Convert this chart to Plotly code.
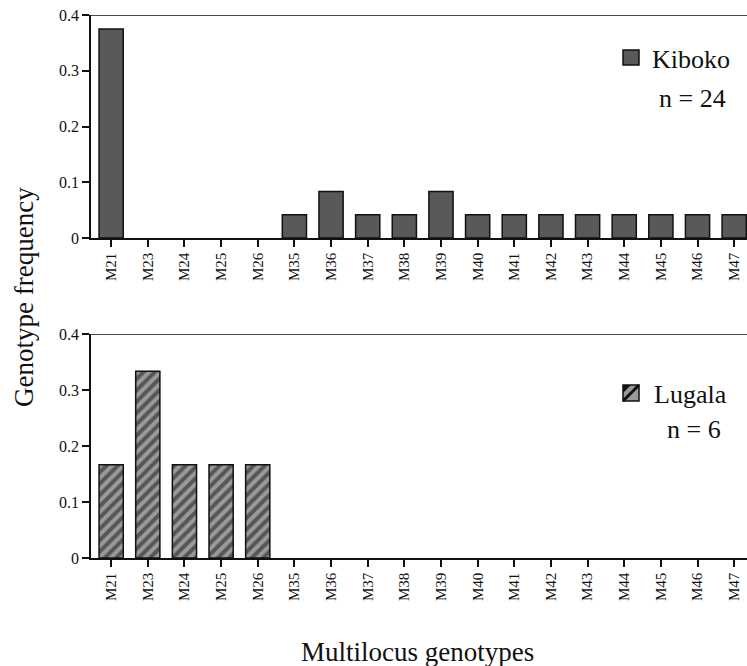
import plotly.graph_objects as go

genotypes = ["M21", "M23", "M24", "M25", "M26", "M35", "M36", "M37", "M38",
             "M39", "M40", "M41", "M42", "M43", "M44", "M45", "M46", "M47"]
kiboko = [0.375, 0, 0, 0, 0, 0.0417, 0.0833, 0.0417, 0.0417,
          0.0833, 0.0417, 0.0417, 0.0417, 0.0417, 0.0417, 0.0417, 0.0417, 0.0417]
lugala = [0.1667, 0.3333, 0.1667, 0.1667, 0.1667, 0, 0, 0, 0,
          0, 0, 0, 0, 0, 0, 0, 0, 0]
y_ticks = [0, 0.1, 0.2, 0.3, 0.4]
y_ticklabels = ["0", "0.1", "0.2", "0.3", "0.4"]

FONT = "Liberation Serif"
INK = "#111111"
W, H = 747, 666
ml, mr, mt, mb = 91, 0, 15, 108
pw = W - ml - mr
ph = H - mt - mb
top_lo = (558 - 238) / ph
bot_hi = (558 - 334) / ph


def px(x):
    return (x - ml) / pw


def py(y):
    return (558 - y) / ph


def lw(vals):
    return [1.5 if v > 0 else 0 for v in vals]


fig = go.Figure()
fig.add_trace(go.Bar(x=genotypes, y=kiboko, name="Kiboko", width=0.66,
                     marker=dict(color="#595959", line=dict(color=INK, width=lw(kiboko))),
                     xaxis="x", yaxis="y", showlegend=False))
fig.add_trace(go.Bar(x=genotypes, y=lugala, name="Lugala", width=0.66,
                     marker=dict(color="#9a9a9a", line=dict(color=INK, width=lw(lugala)),
                                 pattern=dict(shape="/", fgcolor=INK, bgcolor="#9a9a9a",
                                              size=8, solidity=0.5, fillmode="overlay")),
                     xaxis="x2", yaxis="y2", showlegend=False))

xcommon = dict(range=[-0.55, 17.35], showline=True, linecolor=INK, linewidth=1.5,
               ticks="outside", ticklen=7, tickwidth=1.5, tickcolor=INK,
               tickangle=-90, tickfont=dict(family=FONT, size=15, color=INK),
               showgrid=False, zeroline=False, fixedrange=True)
ycommon = dict(range=[0, 0.4], tickvals=y_ticks, ticktext=y_ticklabels,
               showline=True, linecolor=INK, linewidth=1.5,
               ticks="outside", ticklen=7, tickwidth=1.5, tickcolor=INK,
               tickfont=dict(family=FONT, size=16, color=INK),
               showgrid=False, zeroline=False, fixedrange=True)

fig.update_layout(
    width=W, height=H,
    margin=dict(l=ml, r=mr, t=mt, b=mb),
    paper_bgcolor="white", plot_bgcolor="white",
    xaxis=dict(domain=[0, 1], anchor="y", **xcommon),
    yaxis=dict(domain=[top_lo, 1], anchor="x", **ycommon),
    xaxis2=dict(domain=[0, 1], anchor="y2", **xcommon),
    yaxis2=dict(domain=[0, bot_hi], anchor="x2", **ycommon),
    showlegend=False,
)

# top frame lines at 0.4
for xr, yr in (("x", "y"), ("x2", "y2")):
    fig.add_shape(type="line", xref=xr + " domain", yref=yr, x0=0, x1=1, y0=0.4, y1=0.4,
                  line=dict(color=INK, width=1.5))

# legend keys
fig.add_shape(type="rect", xref="paper", yref="paper",
              x0=px(623), x1=px(639), y0=py(65), y1=py(50),
              fillcolor="#595959", line=dict(color=INK, width=1.5))
fig.add_shape(type="rect", xref="paper", yref="paper",
              x0=px(623), x1=px(639), y0=py(401), y1=py(385),
              fillcolor="#9a9a9a", line=dict(color=INK, width=1.5))
fig.add_shape(type="line", xref="paper", yref="paper",
              x0=px(623), x1=px(639), y0=py(401), y1=py(385),
              line=dict(color=INK, width=3))
fig.add_shape(type="path", xref="paper", yref="paper",
              path=f"M {px(623)},{py(385)} L {px(631)},{py(385)} L {px(623)},{py(393)} Z",
              fillcolor=INK, line=dict(color=INK, width=0))


def label(text, x, y, size=26, xanchor="center", angle=0):
    fig.add_annotation(text=text, xref="paper", yref="paper", x=px(x), y=py(y),
                       xanchor=xanchor, yanchor="middle", textangle=angle,
                       showarrow=False, font=dict(family=FONT, size=size, color=INK))


label("Kiboko", 650, 59, xanchor="left")
label("n = 24", 692, 98)
label("Lugala", 652, 394, xanchor="left")
label("n = 6", 694, 430)
label("Genotype frequency", 24, 297, size=27, angle=-90)
label("Multilocus genotypes", 417, 652, size=27)

fig.write_html("out.html", post_script="document.body.style.margin='0';",
               config={"displayModeBar": False})
